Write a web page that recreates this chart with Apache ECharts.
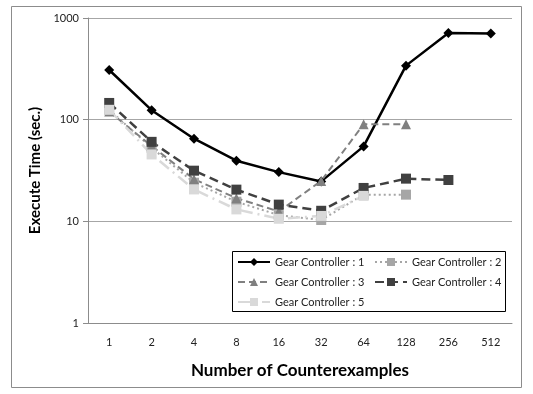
<!DOCTYPE html>
<html>
<head>
<meta charset="utf-8">
<script src="https://cdn.jsdelivr.net/npm/echarts@6/dist/echarts.min.js"></script>
<style>
  html, body { margin: 0; padding: 0; background: #fff; }
  #chart { width: 533px; height: 394px; }
</style>
</head>
<body>
<div id="chart"></div>
<script>
// Counterexample counts along the x axis
const categories = ['1', '2', '4', '8', '16', '32', '64', '128', '256', '512'];

// Execution time in seconds per gear controller configuration
const gear1 = [308, 124, 65, 39.5, 30.5, 24.7, 54.6, 340, 712, 702];
const gear2 = [125, 53, 24, 15.6, 11.5, 10.3, 18.3, 18.3, null, null];
const gear3 = [120, 55, 26, 16.9, 12.5, 25, 90, 90, null, null];
const gear4 = [146, 60.5, 31.5, 20.5, 14.6, 12.7, 21.3, 26.3, 25.5, null];
const gear5 = [125, 45.5, 20.6, 13.1, 10.6, 11.3, 17.8, null, null, null];

const seriesNames = ['Gear Controller : 1', 'Gear Controller : 2', 'Gear Controller : 3', 'Gear Controller : 4', 'Gear Controller : 5'];

const FONT = 'Lato';

function lineSeries(name, data, color, symbol, size, width, dash) {
  return {
    name: name,
    type: 'line',
    data: data,
    symbol: symbol,
    symbolSize: size,
    connectNulls: false,
    itemStyle: { color: color },
    lineStyle: { color: color, width: width, type: dash },
    emphasis: { disabled: true },
    animation: false
  };
}

// Shared look of the two legend columns
function legendColumn(names, left) {
  return {
    data: names,
    orient: 'vertical',
    left: left,
    top: 256,
    padding: 0,
    z: 10,
    itemWidth: 32,
    itemHeight: 10,
    itemGap: 8,
    textStyle: { fontFamily: FONT, fontSize: 11, color: '#222', lineHeight: 12 },
    selectedMode: false
  };
}

const chart = echarts.init(document.getElementById('chart'), null, { renderer: 'canvas' });

chart.setOption({
  backgroundColor: '#ffffff',
  textStyle: { fontFamily: FONT },
  graphic: [{
    type: 'rect',
    shape: { x: 11.5, y: 6.5, width: 510, height: 381 },
    style: { fill: 'none', stroke: '#8c8c8c', lineWidth: 1 },
    silent: true,
    z: -1
  }, {
    // frame around the legend
    type: 'rect',
    shape: { x: 232.5, y: 251.5, width: 273, height: 60 },
    style: { fill: '#fff', stroke: '#000', lineWidth: 1 },
    silent: true,
    z: 3
  }],
  grid: { left: 88, top: 18, right: 21, bottom: 71, containLabel: false },
  legend: [
    legendColumn([seriesNames[0], seriesNames[2], seriesNames[4]], 237),
    legendColumn([seriesNames[1], seriesNames[3]], 374)
  ],
  xAxis: {
    type: 'category',
    data: categories,
    boundaryGap: true,
    name: 'Number of Counterexamples',
    nameLocation: 'middle',
    nameGap: 39,
    nameTextStyle: { fontFamily: FONT, fontSize: 17, fontWeight: 'bold', color: '#000' },
    axisLine: { show: true, lineStyle: { color: '#8c8c8c', width: 1 } },
    axisTick: { show: false },
    axisLabel: { fontFamily: FONT, fontSize: 11, color: '#222', margin: 14 },
    splitLine: { show: false }
  },
  yAxis: {
    type: 'log',
    logBase: 10,
    min: 1,
    max: 1000,
    name: 'Execute Time (sec.)',
    nameLocation: 'middle',
    nameGap: 44,
    nameTextStyle: { fontFamily: FONT, fontSize: 15, fontWeight: 'bold', color: '#000' },
    axisLine: { show: true, lineStyle: { color: '#8c8c8c', width: 1 } },
    axisTick: { show: true, length: 5, lineStyle: { color: '#8c8c8c' } },
    minorTick: { show: false },
    axisLabel: {
      fontFamily: FONT, fontSize: 11, color: '#222', margin: 9,
      formatter: function (v) { return String(Math.round(v)); }
    },
    splitLine: { show: true, lineStyle: { color: '#a6a6a6', width: 1 } }
  },
  series: [
    lineSeries(seriesNames[0], gear1, '#000000', 'diamond', 10, 2.5, 'solid'),
    lineSeries(seriesNames[1], gear2, '#a6a6a6', 'rect', 10, 2, [2, 3]),
    lineSeries(seriesNames[2], gear3, '#808080', 'triangle', 10, 2, [7, 4]),
    lineSeries(seriesNames[3], gear4, '#404040', 'rect', 10, 2.5, [9, 5]),
    lineSeries(seriesNames[4], gear5, '#d9d9d9', 'rect', 10, 2.5, [12, 5, 2, 5])
  ]
});
</script>
</body>
</html>
